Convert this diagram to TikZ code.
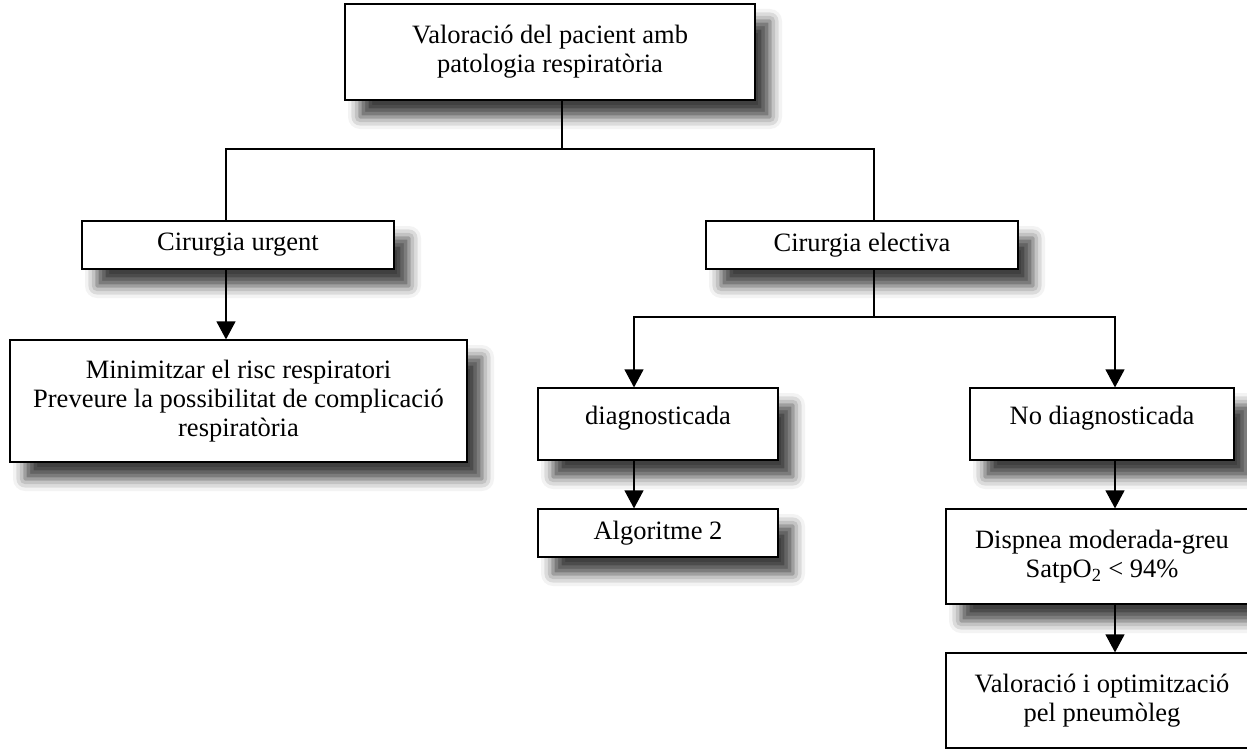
\documentclass[tikz,border=0pt]{standalone}
\usepackage{fontspec}
\setmainfont{Liberation Serif}
\usepackage{tikz}
\usetikzlibrary{arrows.meta,shadows.blur}

\begin{document}
\begin{tikzpicture}[x=1pt, y=-1pt, >={Triangle[length=18pt,width=19pt]},
        caixa/.style={draw, line width=1.2pt, fill=white, align=center,
            font=\fontsize{26.5}{29}\selectfont,
            blur shadow={shadow xshift=15pt, shadow yshift=-17pt,
                shadow blur radius=12pt, shadow opacity=75}},
        linia/.style={line width=1.2pt}]
        \useasboundingbox (0,0) rectangle (1247,749);
        \node[caixa, minimum width=410pt, minimum height=96pt] (val) at (550,52)
            {Valoració del pacient amb\\patologia respiratòria};
        \node[caixa, minimum width=312pt, minimum height=48pt] (urg) at (238,245) {Cirurgia urgent};
        \node[caixa, minimum width=312pt, minimum height=48pt] (ele) at (862,245) {Cirurgia electiva};
        \node[caixa, minimum width=457pt, minimum height=122pt] (mini) at (238.5,401)
            {Minimitzar el risc respiratori\\Preveure la possibilitat de complicació\\respiratòria};
        \node[caixa, minimum width=240pt, minimum height=72pt, text depth=18pt] (diag) at (658,424) {diagnosticada};
        \node[caixa, minimum width=264pt, minimum height=72pt, text depth=18pt] (nodiag) at (1102,424) {No diagnosticada};
        \node[caixa, minimum width=240pt, minimum height=48pt] (algo) at (658,533) {Algoritme 2};
        \node[caixa, minimum width=312pt, minimum height=95pt] (disp) at (1102,556.5)
            {Dispnea moderada-greu\\SatpO\textsubscript{2} < 94\%};
        \node[caixa, minimum width=312pt, minimum height=95pt] (pneu) at (1102,700.5)
            {Valoració i optimització\\pel pneumòleg};
        % branques
        \coordinate (bif1) at (562,149);
        \coordinate (bif2) at (874,317);
        \draw[linia] (val.south -| bif1) -- (bif1);
        \draw[linia] ([xshift=-12pt]urg.north) |- (bif1) -| ([xshift=12pt]ele.north);
        \draw[linia,->] ([xshift=-12pt]urg.south) -- ([xshift=-12pt]urg.south |- mini.north);
        \draw[linia] ([xshift=12pt]ele.south) -- (bif2);
        \draw[linia,->] (bif2) -| ([xshift=-24pt]diag.north);
        \draw[linia,->] (bif2) -| ([xshift=13pt]nodiag.north);
        \draw[linia,->] ([xshift=-24pt]diag.south) -- ([xshift=-24pt]algo.north);
        \draw[linia,->] ([xshift=13pt]nodiag.south) -- ([xshift=13pt]disp.north);
        \draw[linia,->] ([xshift=13pt]disp.south) -- ([xshift=13pt]pneu.north);
    \end{tikzpicture}
\end{document}
